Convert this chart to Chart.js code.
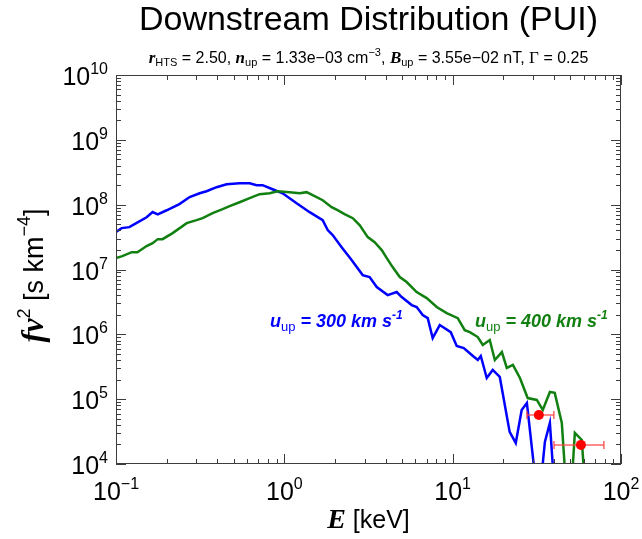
<!DOCTYPE html>
<html>
<head>
<meta charset="utf-8">
<script src="https://cdn.jsdelivr.net/npm/chart.js@4/dist/chart.umd.min.js"></script>
<style>
  html, body { margin: 0; padding: 0; background: #ffffff; }
  #wrap { width: 642px; height: 539px; position: relative; }
</style>
</head>
<body>
<div id="wrap"><canvas id="chart" width="642" height="539"></canvas></div>
<script>
// Downstream PUI spectra, f v^2 [s km^-4] against energy E [keV]
const energy300 = [0.1, 0.108, 0.12, 0.132, 0.152, 0.165, 0.177, 0.2, 0.238, 0.274, 0.314, 0.345, 0.396, 0.454,
  0.542, 0.622, 0.684, 0.743, 0.851, 0.977, 1.183, 1.414, 1.69, 1.81, 1.937, 2.19, 2.51, 2.92, 3.21, 3.54,
  4.11, 4.65, 4.98, 5.71, 6.11, 6.64, 7.11, 7.61, 8.38, 9.74, 10.57, 11.64, 12.99, 14.1, 14.69, 15.94,
  17.3, 19.05, 21.8, 23.7, 25.7, 27.6, 31.2, 33.4, 35.3, 37.8, 41.0];
const fv2_300 = [3.8e7, 4.35e7, 4.5e7, 5.2e7, 6.4e7, 7.7e7, 7.1e7, 8.2e7, 1.02e8, 1.31e8, 1.5e8, 1.61e8, 1.86e8, 2.07e8,
  2.14e8, 2.14e8, 2.0e8, 2.0e8, 1.73e8, 1.5e8, 1.05e8, 7.66e7, 5.77e7, 4.05e7, 3.39e7, 2.21e7, 1.4e7, 8.2e6, 7.64e6, 5.36e6,
  4.03e6, 4.49e6, 3.76e6, 2.83e6, 2.64e6, 1.98e6, 1.78e6, 8.77e5, 1.39e6, 1.08e6, 6.61e5, 6.15e5, 4.8e5, 4.02e5, 4.63e5, 2.12e5,
  2.82e5, 2.2e5, 3.13e4, 2.11e4, 6.82e4, 8.75e4, 5e3, 5e3, 2.19e4, 4.3e4, 2e3];

const energy400 = [0.1, 0.109, 0.124, 0.134, 0.152, 0.165, 0.177, 0.189, 0.217, 0.263, 0.301, 0.327, 0.375, 0.43,
  0.473, 0.542, 0.622, 0.713, 0.818, 0.912, 1.075, 1.233, 1.357, 1.473, 1.69, 1.91, 2.07, 2.28, 2.55, 2.8,
  3.13, 3.44, 3.79, 4.06, 4.4, 4.85, 5.33, 6.11, 7.01, 8.04, 9.22, 10.72, 11.8, 12.64, 14.1, 15.1,
  16.61, 17.8, 19.6, 20.97, 22.8, 25.1, 27.9, 31.6, 34.3, 37.8, 40.4, 44.5, 49.0, 53.2, 58.5, 63.5];
const fv2_400 = [1.5e7, 1.61e7, 1.85e7, 1.85e7, 2.3e7, 2.55e7, 2.94e7, 2.94e7, 3.64e7, 5.19e7, 5.77e7, 6.19e7, 7.4e7, 8.53e7,
  9.48e7, 1.09e8, 1.26e8, 1.45e8, 1.5e8, 1.61e8, 1.56e8, 1.5e8, 1.56e8, 1.4e8, 1.17e8, 9.16e7, 8.23e7, 7.14e7, 6.19e7, 4.83e7,
  3.16e7, 2.64e7, 1.99e7, 1.5e7, 1.09e7, 7.64e6, 6.4e6, 4.49e6, 3.62e6, 2.64e6, 2.13e6, 1.78e6, 1.16e6, 1.08e6, 9.08e5, 6.84e5,
  8.17e5, 4.02e5, 5.33e5, 3.03e5, 3.37e5, 2.12e5, 1.04e5, 9.72e4, 6.82e4, 1.29e5, 1.25e5, 4.3e4, 1e3, 3.01e4, 2.35e4, 1e3];

// measured points: energy, bin edges, f v^2
const obsEnergy = [32.5, 57.8];
const obsLow = [27.6, 40.0];
const obsHigh = [39.9, 79.1];
const obsFv2 = [5.7e4, 1.97e4];

// axis ticks (powers of ten)
const xMajor = [0.1, 1, 10, 100];
const xExponents = ['−1', '0', '1', '2'];
const yMajor = [1e4, 1e5, 1e6, 1e7, 1e8, 1e9, 1e10];
const yExponents = ['4', '5', '6', '7', '8', '9', '10'];

const SANS = '"Liberation Sans", Arial, Helvetica, sans-serif';
const SERIF = '"Liberation Serif", "Times New Roman", Times, serif';
const BLUE = '#0000ff';
const GREEN = '#118011';
const RED = '#ff0000';
const AXIS = '#3c3c3c';

const pairs = (xs, ys) => xs.map((v, i) => ({ x: v, y: ys[i] }));

function richWidth(ctx, parts) {
  let w = 0;
  for (const p of parts) { ctx.font = p.font; w += ctx.measureText(p.text).width; }
  return w;
}
function drawRich(ctx, parts, x, y, align, color) {
  const w = richWidth(ctx, parts);
  let cx = align === 'center' ? x - w / 2 : (align === 'right' ? x - w : x);
  ctx.textAlign = 'left';
  ctx.textBaseline = 'alphabetic';
  for (const p of parts) {
    ctx.font = p.font;
    ctx.fillStyle = p.color || color;
    ctx.fillText(p.text, cx, y + (p.dy || 0));
    cx += ctx.measureText(p.text).width;
  }
}
const power = (exp) => [
  { text: '10', font: `25px ${SANS}` },
  { text: exp, font: `16px ${SANS}`, dy: -11 }
];

// frame, inward ticks on all four sides, and every rich-text label
const decorations = {
  id: 'decorations',
  afterDraw(chart) {
    const { ctx, chartArea: a, scales: { x, y } } = chart;
    ctx.save();
    ctx.strokeStyle = AXIS;
    ctx.lineWidth = 1;
    ctx.strokeRect(a.left + 0.5, a.top + 0.5, a.right - a.left - 1, a.bottom - a.top - 1);

    ctx.beginPath();
    for (const m of xMajor) {
      for (let k = 1; k <= 9; k++) {
        const v = m * k;
        if (v < x.min * 0.999 || v > x.max * 1.001) continue;
        const px = Math.round(x.getPixelForValue(v)) + 0.5;
        const len = k === 1 ? 10 : 5;
        ctx.moveTo(px, a.bottom); ctx.lineTo(px, a.bottom - len);
        ctx.moveTo(px, a.top); ctx.lineTo(px, a.top + len);
      }
    }
    for (const m of yMajor) {
      for (let k = 1; k <= 9; k++) {
        const v = m * k;
        if (v < y.min * 0.999 || v > y.max * 1.001) continue;
        const py = Math.round(y.getPixelForValue(v)) + 0.5;
        const len = k === 1 ? 10 : 5;
        ctx.moveTo(a.left, py); ctx.lineTo(a.left + len, py);
        ctx.moveTo(a.right, py); ctx.lineTo(a.right - len, py);
      }
    }
    ctx.stroke();

    // tick labels
    xMajor.forEach((v, i) => {
      drawRich(ctx, power(xExponents[i]), x.getPixelForValue(v), a.bottom + 36, 'center', '#000');
    });
    yMajor.forEach((v, i) => {
      drawRich(ctx, power(yExponents[i]), a.left - 8, y.getPixelForValue(v) + 10, 'right', '#000');
    });

    // subtitle with run parameters
    drawRich(ctx, [
      { text: 'r', font: `bold italic 17px ${SERIF}` },
      { text: 'HTS', font: `11px ${SANS}`, dy: 3 },
      { text: ' = 2.50, ', font: `16px ${SANS}` },
      { text: 'n', font: `bold italic 17px ${SERIF}` },
      { text: 'up', font: `11px ${SANS}`, dy: 3 },
      { text: ' = 1.33e−03 cm', font: `16px ${SANS}` },
      { text: '−3', font: `11px ${SANS}`, dy: -7 },
      { text: ', ', font: `16px ${SANS}` },
      { text: 'B', font: `bold italic 17px ${SERIF}` },
      { text: 'up', font: `11px ${SANS}`, dy: 3 },
      { text: ' = 3.55e−02 nT, ', font: `16px ${SANS}` },
      { text: 'Γ', font: `17px ${SERIF}` },
      { text: ' = 0.25', font: `16px ${SANS}` }
    ], (a.left + a.right) / 2, 63, 'center', '#000');

    // x axis title
    drawRich(ctx, [
      { text: 'E', font: `bold italic 28px ${SERIF}` },
      { text: ' [keV]', font: `25px ${SANS}` }
    ], (a.left + a.right) / 2, a.bottom + 64, 'center', '#000');

    // y axis title, rotated
    ctx.save();
    ctx.translate(43, (a.top + a.bottom) / 2 + 6);
    ctx.rotate(-Math.PI / 2);
    drawRich(ctx, [
      { text: 'fv', font: `bold italic 31px ${SERIF}` },
      { text: '2', font: `18px ${SANS}`, dy: -13 },
      { text: ' [s km', font: `27px ${SANS}` },
      { text: '−4', font: `18px ${SANS}`, dy: -13 },
      { text: ']', font: `27px ${SANS}` }
    ], 0, 0, 'center', '#000');
    ctx.restore();

    // series labels
    const seriesLabel = (speed) => [
      { text: 'u', font: `bold italic 18px ${SANS}` },
      { text: 'up', font: `13px ${SANS}`, dy: 4 },
      { text: ` = ${speed} km s`, font: `bold italic 18px ${SANS}` },
      { text: '-1', font: `bold italic 12px ${SANS}`, dy: -8 }
    ];
    drawRich(ctx, seriesLabel(300), 270, 327, 'left', BLUE);
    drawRich(ctx, seriesLabel(400), 475, 327, 'left', GREEN);
    ctx.restore();
  }
};

const errorBar = (i) => ({
  type: 'line',
  data: [{ x: obsLow[i], y: obsFv2[i] }, { x: obsHigh[i], y: obsFv2[i] }],
  borderColor: 'rgba(255, 70, 70, 0.85)',
  borderWidth: 1.5,
  pointStyle: 'line',
  pointRotation: 90,
  pointRadius: 4,
  pointBorderWidth: 1.5,
  pointBorderColor: 'rgba(255, 70, 70, 0.85)',
  order: 1
});

new Chart(document.getElementById('chart'), {
  type: 'line',
  data: {
    datasets: [
      {
        type: 'scatter',
        data: pairs(obsEnergy, obsFv2),
        backgroundColor: RED,
        borderColor: RED,
        pointRadius: 5,
        pointBorderWidth: 0,
        showLine: false,
        order: 0
      },
      errorBar(0),
      errorBar(1),
      {
        data: pairs(energy400, fv2_400),
        borderColor: GREEN,
        borderWidth: 2.5,
        pointRadius: 0,
        tension: 0,
        order: 2
      },
      {
        data: pairs(energy300, fv2_300),
        borderColor: BLUE,
        borderWidth: 2.5,
        pointRadius: 0,
        tension: 0,
        order: 3
      }
    ]
  },
  options: {
    responsive: false,
    animation: false,
    devicePixelRatio: 1,
    parsing: true,
    layout: { padding: { left: 116, right: 21, top: 0, bottom: 75 } },
    plugins: {
      legend: { display: false },
      tooltip: { enabled: false },
      title: {
        display: true,
        text: 'Downstream Distribution (PUI)',
        color: '#000',
        font: { family: SANS, size: 34, weight: 'normal', lineHeight: 1.2 },
        padding: { top: 0, bottom: 34.2 }
      }
    },
    scales: {
      x: { type: 'logarithmic', min: 0.1, max: 100, display: false },
      y: { type: 'logarithmic', min: 1e4, max: 1e10, display: false }
    }
  },
  plugins: [decorations]
});
</script>
</body>
</html>
